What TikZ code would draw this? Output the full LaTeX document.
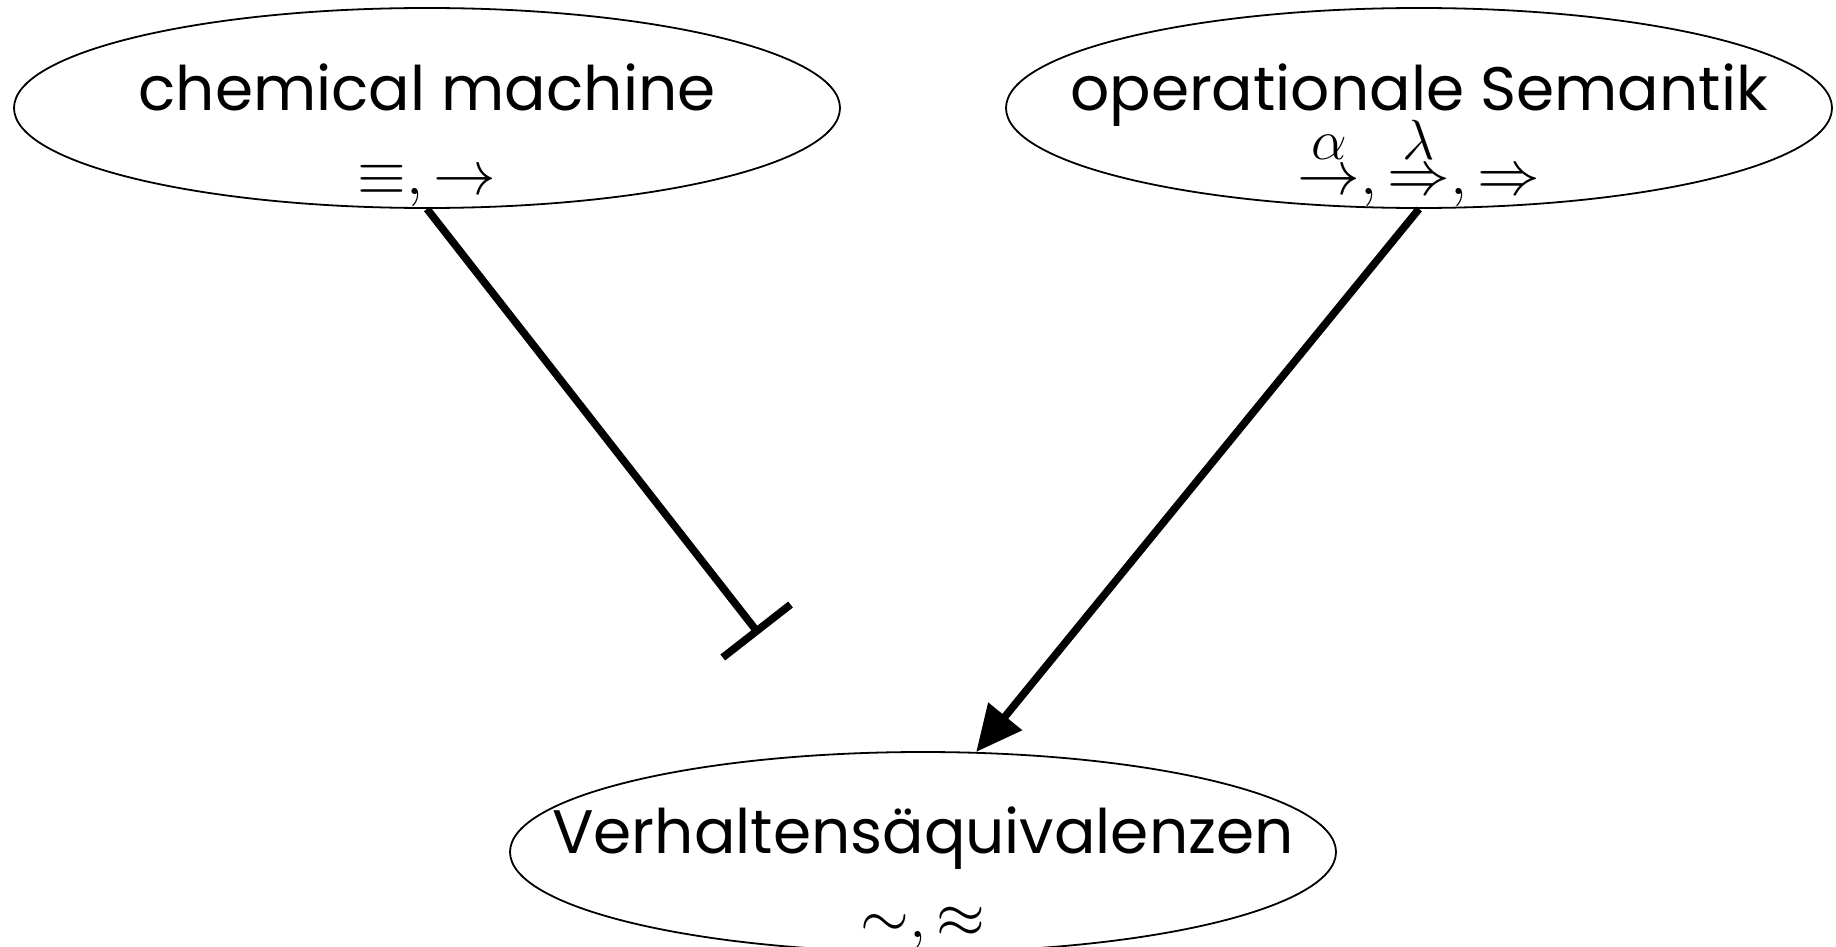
\documentclass[tikz,border=0pt]{standalone}
\usepackage{fontspec}
\setmainfont{Poppins}
\usepackage{graphicx}
\usetikzlibrary{arrows.meta,shapes.geometric}
\tikzset{
  topic/.style={draw, ellipse, line width=0.9pt, minimum width=413pt, minimum height=100pt, inner sep=0pt},
  title/.style={anchor=base, inner sep=0pt, font=\fontsize{30.7}{36}\selectfont},
  rel/.style={anchor=base, inner sep=0pt, font=\fontsize{25}{30}\selectfont},
  link/.style={line width=3.8pt},
}
% relation symbols, enlarged beyond the largest fixed math size
\newcommand{\bigrel}[1]{\scalebox{1.26}{$#1$}}
% a relation with a raised label on top
\newcommand{\labrel}[2]{\stackrel{\raisebox{2.6pt}{\scalebox{1.3}{$\scriptstyle #1$}}}{#2}}
\begin{document}
\begin{tikzpicture}[x=0.5pt, y=-0.5pt]
  \useasboundingbox (0,0) rectangle (1836,947);
  % the three ellipses
  \node[topic] (cm) at (427,108) {};
  \node[topic] (op) at (1419,108) {};
  \node[topic] (ve) at (923,852) {};
  % their texts
  \node[title] (cmt) at (427,111) {chemical machine};
  \node[rel]   (cmr) at (427,194) {\bigrel{\equiv, \rightarrow}};
  \node[title] (opt) at (1419,111) {operationale Semantik};
  \node[rel]   (opr) at (1419,194) {\bigrel{\labrel{\alpha}{\rightarrow}, \labrel{\lambda}{\Rightarrow}, \Rightarrow}};
  \node[title] (vet) at (923,853) {Verhaltensäquivalenzen};
  \node[rel]   (ver) at (923,937) {\bigrel{\sim, \approx}};
  % connectors
  \coordinate (stop) at (759,634);
  \draw[link, -{Bar[width=43pt]}] (cm.south) -- (stop);
  \draw[link, -{Triangle[length=23pt, width=21pt]}] (op.south) -- (ve.62);
\end{tikzpicture}
\end{document}
